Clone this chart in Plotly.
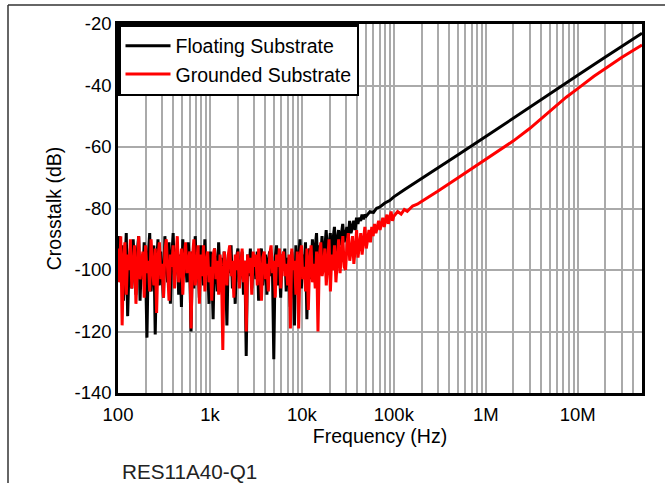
import numpy as np
import plotly.graph_objects as go

# ---------------- data ----------------
# Floating substrate: noisy floor section, 100 Hz .. 50 kHz (log-spaced samples)
black_noise_range = (100, 50e3)
black_noise_db = [
    -96, -89, -104, -92, -110, -97, -88, -115, -99, -93,
    -106, -90, -101, -108, -94, -89, -110, -97, -103, -91,
    -100, -122, -95, -88, -107, -99, -92, -121, -98, -90,
    -105, -94, -100, -109, -89, -97, -104, -91, -111, -96,
    -88, -102, -98, -93, -108, -95, -112, -90, -100, -96,
    -104, -91, -99, -120, -94, -106, -89, -101, -97, -109,
    -92, -99, -105, -90, -103, -97, -111, -94, -100, -116,
    -93, -98, -107, -91, -102, -96, -109, -94, -100, -118,
    -95, -101, -92, -106, -98, -111, -96, -93, -104, -99,
    -94, -108, -97, -128, -95, -102, -93, -106, -99, -96,
    -103, -94, -110, -98, -93, -105, -100, -95, -108, -97,
    -94, -102, -99, -129, -96, -92, -105, -98, -109, -95,
    -100, -93, -107, -96, -102, -112, -94, -99, -118, -92,
    -101, -97, -90, -106, -95, -99, -91, -116, -96, -93,
    -103, -90, -98, -94, -88, -101, -92, -96, -89, -99,
    -91, -87, -95, -93, -88, -97, -90, -86, -94, -91,
    -87, -92, -89, -85, -91, -88, -86, -90, -84, -88,
    -86, -84, -87, -83, -85, -83, -84, -82, -83.5, -82,
    -82.5,
]
# Floating substrate: smooth rising section
black_smooth_hz = [55e3, 60e3, 65e3, 70e3, 80e3, 90e3, 100e3, 130e3, 160e3, 200e3,
                   300e3, 500e3, 1e6, 2e6, 5e6, 1e7, 2e7, 5e7]
black_smooth_db = [-81.0, -81.3, -79.9, -79.6, -78.2, -77.4, -76.2, -73.9, -72.1, -70.3,
                   -66.9, -62.5, -56.6, -50.7, -42.8, -36.7, -30.7, -23.0]

# Grounded substrate: noisy floor section, 100 Hz .. 100 kHz (log-spaced samples)
red_noise_range = (100, 100e3)
red_noise_db = [
    -93, -104, -89, -118, -97, -91, -108, -95, -100, -90,
    -106, -98, -92, -111, -96, -89, -103, -99, -94, -109,
    -92, -101, -97, -107, -90, -99, -105, -93, -114, -96,
    -91, -103, -98, -109, -94, -90, -102, -110, -95, -99,
    -92, -106, -97, -89, -104, -100, -93, -108, -96, -91,
    -101, -98, -94, -119, -96, -90, -105, -99, -92, -111,
    -95, -102, -92, -107, -97, -94, -104, -99, -110, -95,
    -93, -103, -97, -108, -95, -100, -126, -94, -99, -105,
    -95, -92, -102, -97, -109, -95, -100, -94, -106, -98,
    -93, -104, -97, -120, -95, -101, -96, -108, -94, -99,
    -95, -105, -93, -100, -110, -96, -94, -103, -98, -107,
    -95, -92, -101, -97, -109, -95, -99, -93, -106, -96,
    -94, -102, -98, -105, -95, -119, -93, -100, -97, -108,
    -94, -119, -96, -92, -103, -99, -107, -93, -113, -97,
    -92, -104, -98, -106, -94, -120, -96, -91, -102, -99,
    -93, -105, -97, -90, -107, -95, -100, -92, -104, -96,
    -90, -101, -95, -89, -99, -100, -92, -88, -97, -94,
    -89, -98, -93, -87, -96, -91, -88, -95, -90, -86,
    -93, -89, -87, -91, -86, -89, -85, -88, -86, -84,
    -87, -85, -83, -86, -84, -82, -85, -83, -81, -84,
    -82.5,
]
# Grounded substrate: smooth rising section
red_smooth_hz = [110e3, 120e3, 130e3, 140e3, 160e3, 180e3, 200e3, 250e3, 300e3, 500e3,
                 700e3, 1e6, 1.5e6, 2e6, 3e6, 5e6, 7.5e6, 1e7, 1.5e7, 2e7, 3e7, 5e7]
red_smooth_db = [-81.0, -81.8, -80.3, -80.9, -79.2, -78.6, -77.7, -76.0, -74.4, -70.0,
                 -67.1, -64.0, -60.7, -58.0, -54.0, -48.3, -43.8, -41.0, -37.0,
                 -34.5, -30.9, -26.8]

series_names = ["Floating Substrate", "Grounded Substrate"]
series_colors = ["#000000", "#ff0000"]

x_major_vals = [1e2, 1e3, 1e4, 1e5, 1e6, 1e7]
x_major_text = ["100", "1k", "10k", "100k", "1M", "10M"]
y_ticks = [-140, -120, -100, -80, -60, -40, -20]
y_tick_text = ["-140", "-120", "-100", "-80", "-60", "-40", "-20"]
part_number = "RES11A40-Q1"

# ---------------- build ----------------
bx = list(np.geomspace(black_noise_range[0], black_noise_range[1], len(black_noise_db))) + black_smooth_hz
by = black_noise_db + black_smooth_db
rx = list(np.geomspace(red_noise_range[0], red_noise_range[1], len(red_noise_db))) + red_smooth_hz
ry = red_noise_db + red_smooth_db

fig = go.Figure()
fig.add_trace(go.Scatter(x=bx, y=by, mode="lines", name=series_names[0],
                         line=dict(color=series_colors[0], width=3)))
fig.add_trace(go.Scatter(x=rx, y=ry, mode="lines", name=series_names[1],
                         line=dict(color=series_colors[1], width=3)))

# all log grid positions (1..9 per decade) with labels only on decades
tickvals, ticktext = [], []
for d in range(2, 8):
    for m in range(1, 10):
        v = m * 10 ** d
        if v > 5e7:
            break
        tickvals.append(v)
        ticktext.append(x_major_text[x_major_vals.index(v)] if v in x_major_vals else "")

grid = "#aaaaaa"
fig.update_xaxes(type="log", range=[2, np.log10(5e7)], tickmode="array",
                 tickvals=tickvals, ticktext=ticktext, showgrid=True,
                 gridcolor=grid, gridwidth=2, showline=True, linecolor="black",
                 linewidth=2.5, mirror=True, ticks="", zeroline=False,
                 tickfont=dict(size=18.5), ticklabelstandoff=3,
                 title=dict(text="Frequency (Hz)", font=dict(size=19.5), standoff=3))
fig.update_yaxes(range=[-140, -20], tickmode="array", tickvals=y_ticks,
                 ticktext=y_tick_text,
                 showgrid=True, gridcolor=grid, gridwidth=2, showline=True,
                 linecolor="black", linewidth=2.5, mirror=True, ticks="",
                 zeroline=False, tickfont=dict(size=18.5),
                 title=dict(text="Crosstalk (dB)", font=dict(size=19.5), standoff=8))

fig.update_layout(
    width=665, height=483,
    margin=dict(l=118, r=23, t=24, b=90, autoexpand=False),
    paper_bgcolor="white", plot_bgcolor="white",
    font=dict(family="Liberation Sans, Arial, sans-serif", size=18.5, color="black"),
    showlegend=True,
    legend=dict(x=0, y=1, xanchor="left", yanchor="top", bgcolor="white",
                bordercolor="black", borderwidth=2.5, font=dict(size=19.5),
                tracegroupgap=0, itemwidth=45),
    annotations=[dict(text=part_number, xref="paper", yref="paper",
                      x=(120 - 118) / 524, y=(393 - 471.5) / 369,
                      xanchor="left", yanchor="middle", showarrow=False,
                      font=dict(size=20.7, color="#222222"))],
    shapes=[
        dict(type="line", xref="paper", yref="paper", x0=(8 - 118) / 524, x1=(666 - 118) / 524,
             y0=(393 - 5) / 369, y1=(393 - 5) / 369, line=dict(color="#333333", width=1.5)),
        dict(type="line", xref="paper", yref="paper", x0=(8 - 118) / 524, x1=(8 - 118) / 524,
             y0=(393 - 5) / 369, y1=(393 - 484) / 369, line=dict(color="#333333", width=1.5)),
    ],
)

fig.write_html("out.html")
